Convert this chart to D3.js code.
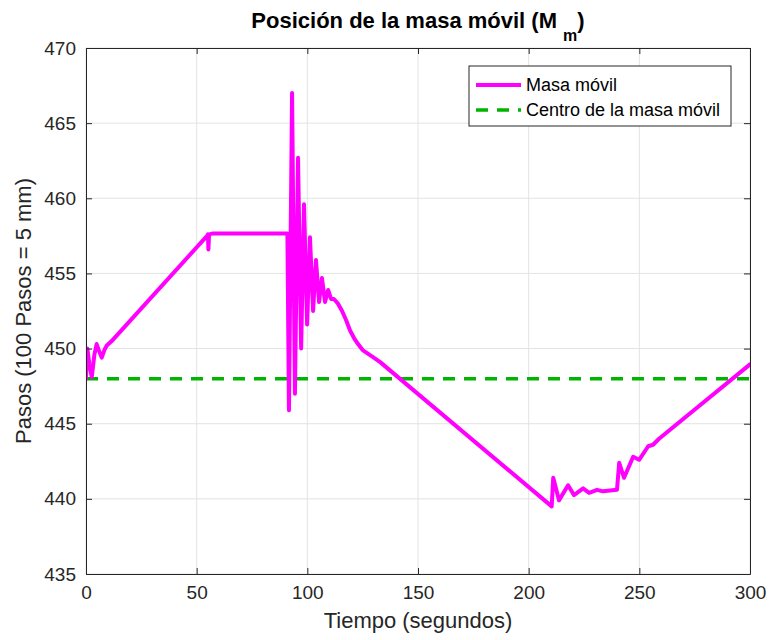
<!DOCTYPE html>
<html>
<head>
<meta charset="utf-8">
<script src="https://cdn.jsdelivr.net/npm/d3@7"></script>
<style>
  html, body { margin: 0; padding: 0; background: #fff; }
  svg { display: block; font-family: "Liberation Sans", Arial, Helvetica, sans-serif; }
</style>
</head>
<body>
<svg id="chart" width="770" height="640"></svg>
<script>
// Time (s) and moving-mass position (steps)
const tiempo = [0, 0.6, 1.5, 2.6, 3.8, 4.8, 6, 7.1, 8.3, 9.4, 11.6, 54.7, 55.1, 55.3, 55.6, 57, 91, 91.7, 93.1, 94.4, 95.8, 97.2, 98.5, 99.9, 101.2, 102.6, 103.9, 105.3, 106.6, 108.0, 109.4, 110.7, 112, 113.8, 115.7, 117.5, 119.3, 121.1, 122.9, 125, 127, 130, 132.9, 210.4, 211.1, 213.7, 217.8, 220.5, 224.6, 227.3, 230.9, 233.6, 239.9, 240.9, 243.1, 247.2, 249.9, 254, 256.2, 258.9, 300];
const masaMovil = [448, 450.0, 449.0, 448.1, 449.6, 450.3, 449.8, 449.4, 449.9, 450.2, 450.5, 457.5, 457.6, 456.6, 457.6, 457.65, 457.65, 445.9, 467.0, 447.0, 462.7, 450.0, 459.6, 451.6, 457.4, 452.5, 455.9, 453.1, 454.7, 453.1, 453.9, 453.3, 453.3, 453.0, 452.5, 451.9, 451.2, 450.7, 450.3, 449.9, 449.7, 449.4, 449.1, 439.5, 441.4, 439.9, 440.9, 440.25, 440.7, 440.4, 440.6, 440.5, 440.6, 442.4, 441.4, 442.8, 442.6, 443.5, 443.6, 444.0, 448.95];
const centroX = [0, 300];
const centroY = [448, 448];

const xTicks = [0, 50, 100, 150, 200, 250, 300];
const yTicks = [435, 440, 445, 450, 455, 460, 465, 470];
const leyenda = ["Masa móvil", "Centro de la masa móvil"];

const svg = d3.select("#chart");
const m = { left: 86, right: 750, top: 48, bottom: 574 };
const W = m.right - m.left, H = m.bottom - m.top;

const x = d3.scaleLinear().domain([0, 300]).range([m.left, m.right]);
const y = d3.scaleLinear().domain([435, 470]).range([m.bottom, m.top]);

// grid
const grid = svg.append("g").attr("stroke", "#e3e3e3").attr("stroke-width", 1);
xTicks.forEach(v => grid.append("line").attr("x1", x(v)).attr("x2", x(v)).attr("y1", m.top).attr("y2", m.bottom));
yTicks.forEach(v => grid.append("line").attr("y1", y(v)).attr("y2", y(v)).attr("x1", m.left).attr("x2", m.right));

// data lines
svg.append("clipPath").attr("id", "clip").append("rect")
  .attr("x", m.left).attr("y", m.top).attr("width", W).attr("height", H);

svg.append("path")
  .attr("clip-path", "url(#clip)")
  .attr("d", d3.line().x(d => x(d[0])).y(d => y(d[1]))(centroX.map((t, i) => [t, centroY[i]])))
  .attr("fill", "none").attr("stroke", "#00b400").attr("stroke-width", 3.5)
  .attr("stroke-dasharray", "12,9");

svg.append("path")
  .attr("clip-path", "url(#clip)")
  .attr("d", d3.line().x(d => x(d[0])).y(d => y(d[1]))(tiempo.map((t, i) => [t, masaMovil[i]])))
  .attr("fill", "none").attr("stroke", "#ff00ff").attr("stroke-width", 4)
  .attr("stroke-linejoin", "round").attr("stroke-linecap", "round");

// axes (box with inward ticks on all sides)
const axisColor = "#262626";
function styleAxis(g) {
  g.selectAll("path.domain").attr("stroke", axisColor);
  g.selectAll(".tick line").attr("stroke", axisColor);
  g.selectAll("text").attr("fill", "#262626").style("font-size", "19px")
    .style("font-family", "'Liberation Sans', Arial, sans-serif");
}
svg.append("g").attr("transform", `translate(0,${m.bottom})`)
  .call(d3.axisBottom(x).tickValues(xTicks).tickSize(-6).tickPadding(12).tickSizeOuter(0))
  .call(styleAxis);
svg.append("g").attr("transform", `translate(0,${m.top})`)
  .call(d3.axisTop(x).tickValues(xTicks).tickSize(-6).tickFormat("").tickSizeOuter(0))
  .call(styleAxis);
svg.append("g").attr("transform", `translate(${m.left},0)`)
  .call(d3.axisLeft(y).tickValues(yTicks).tickSize(-6).tickPadding(10).tickSizeOuter(0))
  .call(styleAxis);
svg.append("g").attr("transform", `translate(${m.right},0)`)
  .call(d3.axisRight(y).tickValues(yTicks).tickSize(-6).tickFormat("").tickSizeOuter(0))
  .call(styleAxis);

// title
const title = svg.append("text").attr("x", 418).attr("y", 28).attr("text-anchor", "middle")
  .style("font-size", "22px").style("font-weight", "bold").attr("fill", "#000");
title.append("tspan").text("Posición de la masa móvil (M ");
title.append("tspan").attr("dy", 13).style("font-size", "16px").text("m");
title.append("tspan").attr("dy", -13).text(")");

// axis labels
svg.append("text").attr("x", 418).attr("y", 628).attr("text-anchor", "middle")
  .style("font-size", "22px").attr("fill", "#262626").text("Tiempo (segundos)");
svg.append("text").attr("transform", `translate(31,${(m.top + m.bottom) / 2}) rotate(-90)`)
  .attr("text-anchor", "middle").style("font-size", "22px").attr("fill", "#262626")
  .text("Pasos (100 Pasos = 5 mm)");

// legend
const lg = svg.append("g");
lg.append("rect").attr("x", 469).attr("y", 66).attr("width", 262).attr("height", 60)
  .attr("fill", "#fff").attr("stroke", axisColor).attr("stroke-width", 1);
const rows = [
  { label: leyenda[0], color: "#ff00ff", dash: null, w: 4, yy: 85 },
  { label: leyenda[1], color: "#00b400", dash: "12,9", w: 3.5, yy: 110 }
];
rows.forEach(r => {
  lg.append("line").attr("x1", 476).attr("x2", 521).attr("y1", r.yy).attr("y2", r.yy)
    .attr("stroke", r.color).attr("stroke-width", r.w).attr("stroke-dasharray", r.dash);
  lg.append("text").attr("x", 526).attr("y", r.yy + 6).style("font-size", "18px")
    .attr("fill", "#000").text(r.label);
});
</script>
</body>
</html>
